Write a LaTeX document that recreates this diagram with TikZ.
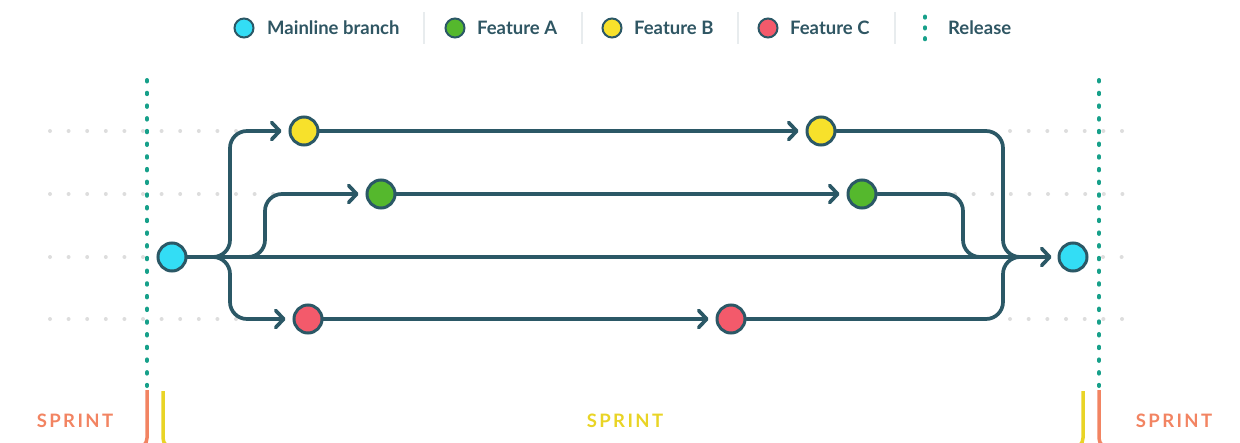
\documentclass[tikz,border=0pt]{standalone}
\usepackage{fontspec}
\setmainfont{Lato}
\usetikzlibrary{arrows.meta}

\definecolor{linec}{HTML}{2B5866}
\definecolor{textc}{HTML}{2F5663}
\definecolor{mainc}{HTML}{33DDF5}
\definecolor{featA}{HTML}{55B82D}
\definecolor{featB}{HTML}{F7E12B}
\definecolor{featC}{HTML}{F35A6B}
\definecolor{relc}{HTML}{17A08A}
\definecolor{sprintO}{HTML}{F28462}
\definecolor{sprintY}{HTML}{E9D426}
\definecolor{dotc}{HTML}{DDDDDD}
\definecolor{sepc}{HTML}{E8ECEE}

\begin{document}
\begin{tikzpicture}[x=1pt,y=-1pt,
  flow/.style={draw=linec, line width=3.7pt, line cap=round, line join=round},
  tipped/.style={flow, -{Straight Barb[length=8pt,width=17pt,round]}, shorten >=7pt},
  merge/.style={flow, rounded corners=17pt},
  commit/.style={circle, draw=linec, line width=3pt, minimum size=28pt, inner sep=0pt},
  keydot/.style={circle, draw=linec, line width=2pt, minimum size=19pt, inner sep=0pt},
  keytext/.style={anchor=base west, text=textc, font=\fontsize{18.5}{20}\selectfont\bfseries, inner sep=0pt},
  sep/.style={draw=sepc, line width=1.5pt},
  release/.style={draw=relc, line width=4pt, line cap=round, dash pattern=on 1.5pt off 11.2pt},
  griddot/.style={fill=dotc},
  sprinttext/.style={anchor=base, inner sep=0pt, font=\fontsize{18.5}{20}\selectfont\bfseries\addfontfeature{LetterSpace=13}},
  bracket/.style={line width=3.5pt, rounded corners=10pt}
]
\clip (0,0) rectangle (1240,442);

% ---- legend ----
\node[keydot, fill=mainc] (kM) at (244,28) {};
\node[keytext] (tM) at (267,34.5) {Mainline branch};
\draw[sep] (424,12) -- (424,44);
\node[keydot, fill=featA] (kA) at (455,28) {};
\node[keytext] (tA) at (477,34.5) {Feature A};
\draw[sep] (582,12) -- (582,44);
\node[keydot, fill=featB] (kB) at (612,28) {};
\node[keytext] (tB) at (634,34.5) {Feature B};
\draw[sep] (738,12) -- (738,44);
\node[keydot, fill=featC] (kC) at (768,28) {};
\node[keytext] (tC) at (790,34.5) {Feature C};
\draw[sep] (895,12) -- (895,44);
\draw[release, dash pattern=on 1.2pt off 9.6pt] (925,16.5) -- (925,40);
\node[keytext] (tR) at (948,34.5) {Release};

% ---- faint grid of lane dots ----
\foreach \k in {0,...,10} \fill[griddot] (50+18.6*\k,131) circle (2pt);
\foreach \k in {0,...,12} \fill[griddot] (50+18.6*\k,194) circle (2pt);
\foreach \k in {0,...,5}  \fill[griddot] (50+18.6*\k,257) circle (2pt);
\foreach \k in {0,...,10} \fill[griddot] (50+18.6*\k,319) circle (2pt);
\foreach \k in {0,...,6}  \fill[griddot] (1010+18.67*\k,131) circle (2pt);
\foreach \k in {0,...,9}  \fill[griddot] (955+18.6*\k,194) circle (2pt);
\foreach \k in {0,1}      \fill[griddot] (1103+18.6*\k,257) circle (2pt);
\foreach \k in {0,...,6}  \fill[griddot] (1010+18.67*\k,319) circle (2pt);

% ---- release markers ----
\coordinate (relLtop) at (147,80);
\coordinate (relLbot) at (147,386);
\coordinate (relRtop) at (1099,80);
\coordinate (relRbot) at (1099,386);
\draw[release] (relLtop) -- (relLbot);
\draw[release] (relRtop) -- (relRbot);

% ---- commits ----
\node[commit, fill=mainc] (m1) at (172,257) {};
\node[commit, fill=mainc] (m2) at (1073,257) {};
\node[commit, fill=featB] (b1) at (304,131) {};
\node[commit, fill=featB] (b2) at (821,131) {};
\node[commit, fill=featA] (a1) at (381,194) {};
\node[commit, fill=featA] (a2) at (862,194) {};
\node[commit, fill=featC] (c1) at (308,319) {};
\node[commit, fill=featC] (c2) at (731,319) {};

% branch and merge columns
\coordinate (forkBC) at (230,0);
\coordinate (forkA)  at (265,0);
\coordinate (joinBC) at (1003,0);
\coordinate (joinA)  at (963,0);

% ---- mainline ----
\draw[tipped, shorten >=6pt] (m1) -- (m2);

% ---- branches out of the mainline ----
\draw[merge, tipped] (m1.east) -- (m1.east -| forkBC) -- (forkBC |- b1) -- (b1);
\draw[merge, tipped] (m1.east) -- (m1.east -| forkA) -- (forkA |- a1) -- (a1);
\draw[merge, tipped] (m1.east) -- (m1.east -| forkBC) -- (forkBC |- c1) -- (c1);

% ---- work on each feature ----
\draw[tipped] (b1) -- (b2);
\draw[tipped] (a1) -- (a2);
\draw[tipped] (c1) -- (c2);

% ---- merges back into the mainline ----
\draw[merge, shorten >=20pt] (b2) -- (b2 -| joinBC) -- (joinBC |- m2) -- (m2);
\draw[merge, shorten >=20pt] (a2) -- (a2 -| joinA) -- (joinA |- m2) -- (m2);
\draw[merge, shorten >=20pt] (c2) -- (c2 -| joinBC) -- (joinBC |- m2) -- (m2);

% ---- sprint brackets ----
\draw[bracket, draw=sprintO] (147,390) -- (147,448) -- (120,448);
\draw[bracket, draw=sprintY] (163,391) -- (163,448) -- (190,448);
\draw[bracket, draw=sprintY] (1083,391) -- (1083,448) -- (1056,448);
\draw[bracket, draw=sprintO] (1099,390) -- (1099,448) -- (1126,448);

\node[sprinttext, text=sprintO] (sL) at (75,427) {SPRINT};
\node[sprinttext, text=sprintY] (sM) at (625,427) {SPRINT};
\node[sprinttext, text=sprintO] (sR) at (1174,427) {SPRINT};
\end{tikzpicture}
\end{document}
